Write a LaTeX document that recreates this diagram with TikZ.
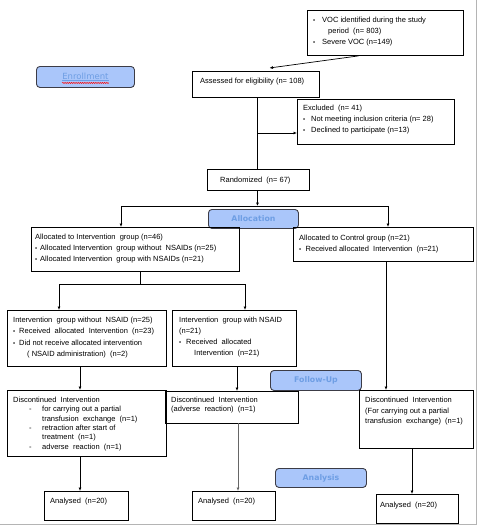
\documentclass[tikz,border=0pt]{standalone}
\usepackage{fontspec}
\setmainfont{Liberation Sans}
\newfontfamily\lblfont{DejaVu Sans}
\usetikzlibrary{arrows.meta,decorations.pathmorphing}
\definecolor{lblfill}{RGB}{170,198,250}
\definecolor{lbltext}{RGB}{110,158,228}
\definecolor{lbldraw}{RGB}{60,60,70}
\definecolor{frame}{RGB}{180,180,180}
\newcommand{\bul}[1]{\makebox[#1][l]{\fontsize{6}{6}\selectfont •}}
\begin{document}
\begin{tikzpicture}[x=1pt,y=-1pt,
  box/.style={draw,line width=0.9pt,anchor=north west,inner sep=0pt},
  txt/.style={anchor=north west,align=left,inner sep=0pt,font=\fontsize{7.5}{10.8}\selectfont},
  lbl/.style={draw=lbldraw,line width=0.9pt,fill=lblfill,rounded corners=3.5pt,anchor=north west,inner sep=0pt,text=lbltext,font=\lblfont\bfseries\fontsize{7.8}{9}\selectfont},
  arr/.style={-{Latex[length=3.5pt,width=3pt]},line width=0.7pt},
  ln/.style={line width=0.7pt}]
\useasboundingbox (0,0) rectangle (478,525);
% frame lines
\draw[frame,line width=1pt] (476.5,0) coordinate (fr1) -- (476.5,524) coordinate (fr2) -- (0,524) coordinate (fr3);

% boxes
\node[box,minimum width=156pt,minimum height=45pt] (voc) at (307,10) {};
\node[txt] (voct) at (313,17.2) {\bul{9pt}VOC identified during the study\\
\hspace{15pt}period\ \ (n= 803)\\
\bul{9pt}Severe VOC (n=149)};

\node[lbl,minimum width=98pt,minimum height=21pt,font=\lblfont\fontsize{8.5}{9}\selectfont] (enr) at (36,66) {};
\node[inner sep=0pt,text=lbltext,font=\lblfont\fontsize{8.5}{9}\selectfont] (enrt) at (enr.center) {\underline{Enrollment}};
\draw[red,line width=0.5pt,decorate,decoration={snake,amplitude=0.6pt,segment length=2.2pt}] ([yshift=-1.5pt]enrt.south west) coordinate (w1) -- ([yshift=-1.5pt]enrt.south east) coordinate (w2);

\node[box,minimum width=127pt,minimum height=26pt] (ass) at (192,71) {};
\node[txt] (asst) at (200,78.2) {Assessed for eligibility (n= 108)};

\node[box,minimum width=157pt,minimum height=45pt] (exc) at (297,99) {};
\node[txt] (exct) at (303,105.2) {Excluded\ \ (n= 41)\\
\bul{8pt}Not meeting inclusion criteria (n= 28)\\
\bul{8pt}Declined to participate (n=13)};

\node[box,minimum width=102pt,minimum height=21pt] (ran) at (207,169) {};
\node[txt] (rant) at (220,177.2) {Randomized\ \ (n= 67)};

\node[lbl,minimum width=90pt,minimum height=19pt] (alloc) at (208,209) {};
\node[inner sep=0pt,text=lbltext,font=\lblfont\bfseries\fontsize{7.8}{9}\selectfont] (alloct) at (alloc.center) {Allocation};

\node[box,minimum width=208pt,minimum height=44pt] (ai) at (31,227) {};
\node[txt] (ait) at (35,234) {Allocated to Intervention\ \ group (n=46)\\
\bul{5pt}Allocated Intervention\ \ group without\ \ NSAIDs (n=25)\\
\bul{5pt}Allocated Intervention\ \ group with NSAIDs (n=21)};

\node[box,minimum width=180pt,minimum height=34pt] (ac) at (293,227) {};
\node[txt,font=\fontsize{7.5}{11}\selectfont] (act) at (299,234.5) {Allocated to Control group (n=21)\\
\bul{6.5pt}Received allocated\ \ Intervention\ \ (n=21)};

\node[box,minimum width=159pt,minimum height=56pt] (b1) at (7,310) {};
\node[txt,font=\fontsize{7.5}{11.5}\selectfont] (b1t) at (13,316.5) {Intervention\ \ group without\ \ NSAID (n=25)\\
\bul{6pt}Received\ \ allocated\ \ Intervention\ \ (n=23)\\
\bul{6pt}Did not receive allocated intervention\\
\hspace{14pt}( NSAID administration)\ \ (n=2)};

\node[box,minimum width=124pt,minimum height=56pt] (b2) at (172,310) {};
\node[txt,font=\fontsize{7.5}{11}\selectfont] (b2t) at (179,316.5) {Intervention\ \ group with NSAID\\
(n=21)\\
\bul{7pt}Received\ \ allocated\\
\hspace{15pt}Intervention\ \ (n=21)};

\node[lbl,minimum width=91pt,minimum height=20pt] (fu) at (270,370) {};
\node[inner sep=0pt,text=lbltext,font=\lblfont\bfseries\fontsize{7.8}{9}\selectfont] (fut) at (fu.center) {Follow-Up};

\node[box,minimum width=159pt,minimum height=66pt] (d1) at (7,390) {};
\node[txt,font=\fontsize{7.5}{9.3}\selectfont] (d1t) at (13,397) {Discontinued\ \ Intervention\\
\hspace{16pt}\makebox[13pt][l]{-}for carrying out a partial\\
\hspace{29pt}transfusion\ \ exchange\ \ (n=1)\\
\hspace{16pt}\makebox[13pt][l]{-}retraction after start of\\
\hspace{29pt}treatment\ \ (n=1)\\
\hspace{16pt}\makebox[13pt][l]{-}adverse\ \ reaction\ \ (n=1)};

\node[box,minimum width=133pt,minimum height=32pt] (d2) at (165,391) {};
\node[txt,font=\fontsize{7.5}{9.3}\selectfont] (d2t) at (171,397) {Discontinued\ \ Intervention\\
(adverse\ \ reaction)\ \ (n=1)};

\node[box,minimum width=114pt,minimum height=58pt] (d3) at (359,390) {};
\node[txt,font=\fontsize{7.5}{10.6}\selectfont] (d3t) at (365,397) {Discontinued\ \ Intervention\\
(For carrying out a partial\\
transfusion\ \ exchange)\ \ (n=1)};

\node[lbl,minimum width=91pt,minimum height=19pt] (an) at (275,468) {};
\node[inner sep=0pt,text=lbltext,font=\lblfont\bfseries\fontsize{7.8}{9}\selectfont] (ant) at (an.center) {Analysis};

\node[box,minimum width=84pt,minimum height=29pt] (a1) at (44,491) {};
\node[txt] (a1t) at (50,498) {Analysed\ \ (n=20)};
\node[box,minimum width=83pt,minimum height=29pt] (a2) at (192,491) {};
\node[txt] (a2t) at (198,498) {Analysed\ \ (n=20)};
\node[box,minimum width=82pt,minimum height=29pt] (a3) at (376,494) {};
\node[txt] (a3t) at (380,502) {Analysed\ \ (n=20)};

% connectors
\coordinate (vs) at ([xshift=-27pt]voc.south);
\coordinate (an1) at ([xshift=13.5pt,yshift=3pt]ass.north);
\draw[arr] (vs) -- (an1);

\coordinate (asb) at ([xshift=1.5pt]ass.south);
\draw[ln] (asb) -- (asb |- ran.north);
\coordinate (exj) at (asb |- 0,133);
\draw[arr] (exj) -- (exj -| exc.west);

\coordinate (rb) at ([xshift=-1pt]ran.south);
\coordinate (hj) at (rb |- 0,206);
\draw[arr] (rb) -- (hj);
\coordinate (hl) at (121,206);
\coordinate (hr) at (388,206);
\draw[ln] (hl) -- (hr);
\draw[arr] (hl) -- (hl |- ai.north);
\draw[arr] (hr) -- (hr |- ac.north);

\coordinate (aib) at (140,271);
\coordinate (aij) at (140,284);
\coordinate (bl) at (59,284);
\coordinate (br) at (245,284);
\draw[ln] (aib) -- (aij);
\draw[ln] (bl) -- (br);
\draw[arr] (bl) -- (bl |- b1.north);
\draw[arr] (br) -- (br |- b2.north);

\coordinate (b1b) at (80,366);
\draw[arr] (b1b) -- (b1b |- d1.north);
\coordinate (b2b) at (237,366);
\draw[arr] (b2b) -- (b2b |- d2.north);
\coordinate (acb) at (386,261);
\draw[arr] (acb) -- (acb |- d3.north);

\coordinate (d1b) at (80,456);
\draw[arr] (d1b) -- (d1b |- a1.north);
\coordinate (d2b) at (238,423);
\draw[arr,draw=gray!80!black] (d2b) -- (d2b |- a2.north);
\coordinate (d3b) at (412,448);
\draw[arr] (d3b) -- (d3b |- a3.north);
\end{tikzpicture}
\end{document}
